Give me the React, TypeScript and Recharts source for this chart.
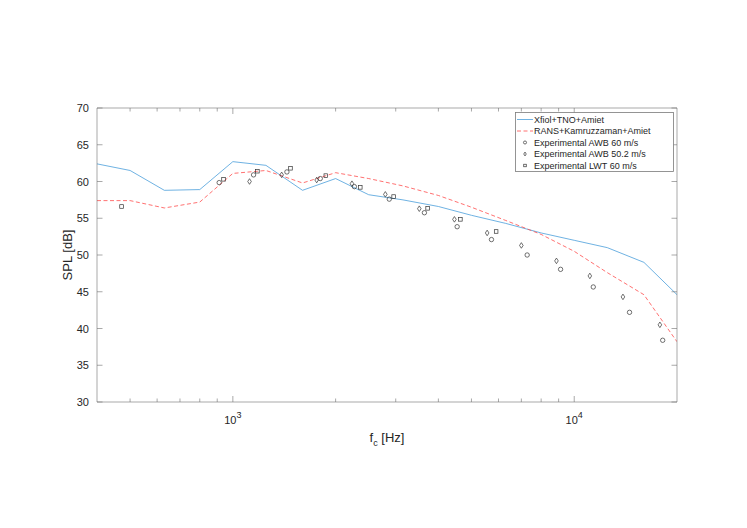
import React from 'react';
import { ComposedChart, Line, Scatter, XAxis, YAxis } from 'recharts';

// 1/3-octave band centres used by both predictions
const bandFreqs = [400, 500, 630, 800, 1000, 1250, 1600, 2000, 2500, 3150, 4000, 5000, 6300, 8000, 10000, 12500, 16000, 20000];
const xfoilSpl = [62.4, 61.5, 58.8, 58.9, 62.7, 62.2, 58.8, 60.4, 58.2, 57.5, 56.6, 55.4, 54.3, 53.0, 52.0, 51.0, 49.0, 44.6];
const ransSpl = [57.4, 57.4, 56.4, 57.2, 61.1, 61.5, 59.8, 61.2, 60.4, 59.4, 58.1, 56.5, 54.7, 52.8, 50.5, 47.6, 44.6, 38.2];

// experiments
const awb60Freqs = [912, 1150, 1440, 1803, 2270, 2872, 3640, 4540, 5722, 7280, 9120, 11370, 14520, 18160];
const awb60Spl = [59.85, 60.9, 61.3, 60.4, 59.3, 57.6, 55.75, 53.85, 52.1, 50.0, 48.05, 45.65, 42.2, 38.4];
const awb50Freqs = [1119, 1390, 1760, 2233, 2797, 3517, 4457, 5558, 7000, 8870, 11110, 13890, 17820];
const awb50Spl = [60.0, 60.9, 60.2, 59.7, 58.25, 56.3, 54.85, 53.0, 51.3, 49.2, 47.15, 44.3, 40.5];
const lwtFreqs = [472, 939, 1180, 1475, 1872, 2362, 2958, 3720, 4640, 5905];
const lwtSpl = [56.6, 60.3, 61.4, 61.8, 60.8, 59.2, 57.95, 56.35, 54.85, 53.2];

const xTicks = [500, 600, 700, 800, 900, 1000, 2000, 3000, 4000, 5000, 6000, 7000, 8000, 9000, 10000];
const yTicks = [30, 35, 40, 45, 50, 55, 60, 65, 70];

const legendItems = [
  { name: 'Xfiol+TNO+Amiet', kind: 'solid' },
  { name: 'RANS+Kamruzzaman+Amiet', kind: 'dashed' },
  { name: 'Experimental AWB 60 m/s', kind: 'circle' },
  { name: 'Experimental AWB 50.2 m/s', kind: 'diamond' },
  { name: 'Experimental LWT 60 m/s', kind: 'square' },
];

const FONT = '"Liberation Sans", Arial, Helvetica, sans-serif';
const AXIS = '#6e6e6e';
const TEXT = '#262626';
const BLUE = '#4a9edb';
const RED = '#ff4d4d';
const MARK = '#333333';

const toRows = (fs: number[], vs: number[]) => fs.map((f, i) => ({ f, v: vs[i] }));
const xfoilData = toRows(bandFreqs, xfoilSpl);
const ransData = toRows(bandFreqs, ransSpl);
const awb60Data = toRows(awb60Freqs, awb60Spl);
const awb50Data = toRows(awb50Freqs, awb50Spl);
const lwtData = toRows(lwtFreqs, lwtSpl);

const isMajor = (v: number) => v === 1000 || v === 10000;

const BottomTick = (props: any) => {
  const { x, y, payload } = props;
  const len = isMajor(payload.value) ? 6 : 3.5;
  return (
    <g>
      <line x1={x} x2={x} y1={y} y2={y - len} stroke={AXIS} strokeWidth={0.6} />
      {isMajor(payload.value) && (
        <text x={x} y={y + 22} textAnchor="middle" fontSize={11} fill={TEXT} fontFamily={FONT}>
          10<tspan dy={-6} fontSize={9}>{Math.round(Math.log10(payload.value))}</tspan>
        </text>
      )}
    </g>
  );
};

const TopTick = (props: any) => {
  const { x, y, payload } = props;
  const len = isMajor(payload.value) ? 6 : 3.5;
  return <line x1={x} x2={x} y1={y} y2={y + len} stroke={AXIS} strokeWidth={0.6} />;
};

const LeftTick = (props: any) => {
  const { x, y, payload } = props;
  return (
    <g>
      <line x1={x} x2={x + 5.5} y1={y} y2={y} stroke={AXIS} strokeWidth={0.6} />
      <text x={x - 8} y={y} dy={4} textAnchor="end" fontSize={11} fill={TEXT} fontFamily={FONT}>
        {payload.value}
      </text>
    </g>
  );
};

const RightTick = (props: any) => {
  const { x, y } = props;
  return <line x1={x} x2={x - 5.5} y1={y} y2={y} stroke={AXIS} strokeWidth={0.6} />;
};

const XTitle = (props: any) => {
  const { x, y, width } = props.viewBox;
  return (
    <text x={x + width / 2} y={y + 40} textAnchor="middle" fontSize={13} fill={TEXT} fontFamily={FONT}>
      f<tspan dy={4} fontSize={9}>c</tspan>
      <tspan dy={-4}> [Hz]</tspan>
    </text>
  );
};

const YTitle = (props: any) => {
  const { y, height } = props.viewBox;
  const cy = y + height / 2;
  return (
    <text x={0} y={0} transform={`translate(72, ${cy}) rotate(-90)`} textAnchor="middle" fontSize={13} fill={TEXT} fontFamily={FONT}>
      SPL [dB]
    </text>
  );
};

const CircleMark = (p: any) => (
  <circle cx={p.cx} cy={p.cy} r={p.s ? 2.2 * p.s : 2.2} fill="none" stroke={MARK} strokeWidth={0.7} />
);
const DiamondMark = (p: any) => {
  const k = p.s || 1;
  return (
    <path
      d={`M${p.cx},${p.cy - 2.8 * k}L${p.cx + 1.8 * k},${p.cy}L${p.cx},${p.cy + 2.8 * k}L${p.cx - 1.8 * k},${p.cy}Z`}
      fill="none"
      stroke={MARK}
      strokeWidth={0.7}
    />
  );
};
const SquareMark = (p: any) => {
  const h = 1.8 * (p.s || 1);
  return <rect x={p.cx - h} y={p.cy - h} width={2 * h} height={2 * h} fill="none" stroke={MARK} strokeWidth={0.7} />;
};

function LegendBox() {
  return (
    <svg
      width={159}
      height={60}
      style={{ position: 'absolute', left: 515, top: 112, overflow: 'visible' }}
    >
      <rect x={0.5} y={0.5} width={158} height={59} fill="#fff" stroke="#7a7a7a" strokeWidth={0.8} />
      {legendItems.map((it, i) => {
        const cy = 7.5 + i * 11.5;
        return (
          <g key={it.name}>
            {it.kind === 'solid' && <line x1={2} x2={18} y1={cy} y2={cy} stroke={BLUE} strokeWidth={0.8} />}
            {it.kind === 'dashed' && (
              <line x1={2} x2={18} y1={cy} y2={cy} stroke={RED} strokeWidth={0.8} strokeDasharray="4 2.5" />
            )}
            {it.kind === 'circle' && <CircleMark cx={10} cy={cy} s={0.7} />}
            {it.kind === 'diamond' && <DiamondMark cx={10} cy={cy} s={0.7} />}
            {it.kind === 'square' && <SquareMark cx={10} cy={cy} s={0.7} />}
            <text x={19} y={cy + 3.2} fontSize={9} fill={TEXT} fontFamily={FONT}>
              {it.name}
            </text>
          </g>
        );
      })}
    </svg>
  );
}

export default function App() {
  return (
    <div style={{ position: 'absolute', left: 0, top: 0, width: 747, height: 528, background: '#fff' }}>
      <ComposedChart width={747} height={528} margin={{ top: 107, right: 69, left: 57, bottom: 96 }}>
        <XAxis
          dataKey="f"
          type="number"
          scale="log"
          domain={[400, 20000]}
          allowDataOverflow
          ticks={xTicks}
          interval={0}
          height={30}
          tickSize={0}
          tickMargin={0}
          tickLine={false}
          axisLine={{ stroke: AXIS, strokeWidth: 0.6 }}
          tick={(p: any) => <BottomTick {...p} />}
          label={<XTitle />}
        />
        <XAxis
          xAxisId="top"
          orientation="top"
          dataKey="f"
          type="number"
          scale="log"
          domain={[400, 20000]}
          allowDataOverflow
          ticks={xTicks}
          interval={0}
          height={1}
          tickSize={0}
          tickMargin={0}
          tickLine={false}
          axisLine={{ stroke: AXIS, strokeWidth: 0.6 }}
          tick={(p: any) => <TopTick {...p} />}
        />
        <YAxis
          dataKey="v"
          type="number"
          domain={[30, 70]}
          allowDataOverflow
          ticks={yTicks}
          interval={0}
          width={40}
          tickSize={0}
          tickMargin={0}
          tickLine={false}
          axisLine={{ stroke: AXIS, strokeWidth: 0.6 }}
          tick={(p: any) => <LeftTick {...p} />}
          label={<YTitle />}
        />
        <YAxis
          yAxisId="right"
          orientation="right"
          dataKey="v"
          type="number"
          domain={[30, 70]}
          allowDataOverflow
          ticks={yTicks}
          interval={0}
          width={1}
          tickSize={0}
          tickMargin={0}
          tickLine={false}
          axisLine={{ stroke: AXIS, strokeWidth: 0.6 }}
          tick={(p: any) => <RightTick {...p} />}
        />
        <Line
          data={xfoilData}
          dataKey="v"
          type="linear"
          stroke={BLUE}
          strokeWidth={0.8}
          dot={false}
          activeDot={false}
          isAnimationActive={false}
        />
        <Line
          data={ransData}
          dataKey="v"
          type="linear"
          stroke={RED}
          strokeWidth={0.8}
          strokeDasharray="4 2.5"
          dot={false}
          activeDot={false}
          isAnimationActive={false}
        />
        <Scatter data={awb60Data} dataKey="v" shape={(p: any) => <CircleMark cx={p.cx} cy={p.cy} />} isAnimationActive={false} />
        <Scatter data={awb50Data} dataKey="v" shape={(p: any) => <DiamondMark cx={p.cx} cy={p.cy} />} isAnimationActive={false} />
        <Scatter data={lwtData} dataKey="v" shape={(p: any) => <SquareMark cx={p.cx} cy={p.cy} />} isAnimationActive={false} />
      </ComposedChart>
      <LegendBox />
    </div>
  );
}
